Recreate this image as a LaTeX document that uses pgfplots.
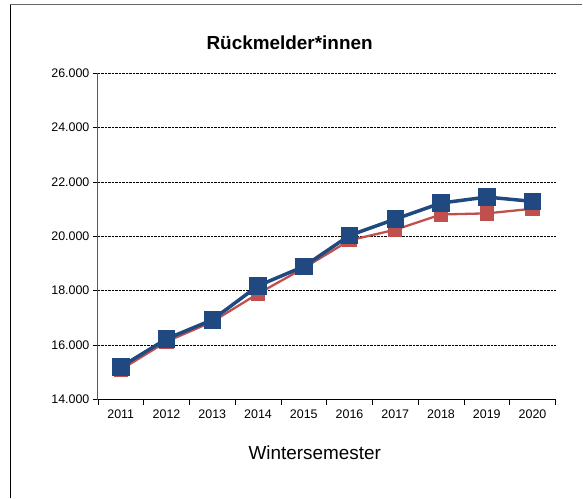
\documentclass[border=0pt]{standalone}
\usepackage{pgfplots}
\pgfplotsset{compat=1.18}
\usepackage{fontspec}
\setmainfont{Liberation Sans}
\definecolor{sblue}{RGB}{31,73,128}
\definecolor{sred}{RGB}{192,80,77}
\begin{document}
\begin{tikzpicture}[x=1bp,y=1bp]
\path (0,0) rectangle (583,499);
\draw[black, line width=0.8bp] (10,0) -- (10,494.5);
\draw[gray!80!black, line width=1.2bp] (10,494.5) -- (583,494.5);
\begin{axis}[
  at={(98bp,99bp)}, anchor=south west,
  scale only axis, width=458bp, height=327bp,
  xmin=0.5, xmax=10.5, ymin=14000, ymax=26000,
  xtick={0.5,1.5,...,10.5},
  x tick label as interval,
  xticklabels={2011,2012,2013,2014,2015,2016,2017,2018,2019,2020},
  ytick={14000,16000,...,26000},
  scaled y ticks=false,
  /pgf/number format/.cd, 1000 sep={.}, assume math mode=true, /pgfplots/.cd,
  yticklabel={\pgfmathprintnumber[fixed,1000 sep={.},min exponent for 1000 sep=0]{\tick}},
  ymajorgrids, grid style={black, densely dotted, line width=0.6bp},
  axis x line*=bottom, axis y line*=left,
  x axis line style={black, line width=0.8bp, -},
  y axis line style={gray!70!black, line width=1bp, -},
  tick align=outside, major tick length=5bp,
  tick style={black, line width=0.6bp},
  ticklabel style={font=\fontsize{12.5}{14}\selectfont},
  xticklabel style={yshift=-2bp},
  clip=false,
  title={\bfseries Rückmelder*innen},
  title style={at={(rel axis cs:0.419,1.074)}, anchor=center, font=\fontsize{19}{22}\selectfont},
  xlabel={Wintersemester},
  xlabel style={at={(rel axis cs:0.474,-0.162)}, anchor=center, font=\fontsize{19}{22}\selectfont},
]
\addplot[sred, line width=2.3bp, mark=square*, mark size=6bp, mark options={solid, fill=sred, draw=sred, rounded corners=1.5bp}]
coordinates {(1,15100) (2,16130) (3,16860) (4,17890) (5,18830) (6,19850) (7,20240) (8,20800) (9,20840) (10,21010)};
\addplot[sblue, line width=3.5bp, mark=square*, mark size=7bp, mark options={solid, fill=sblue, draw=sblue, rounded corners=1.5bp}]
coordinates {(1,15200) (2,16230) (3,16930) (4,18180) (5,18890) (6,20030) (7,20630) (8,21220) (9,21440) (10,21280)};
\end{axis}
\end{tikzpicture}
\end{document}
